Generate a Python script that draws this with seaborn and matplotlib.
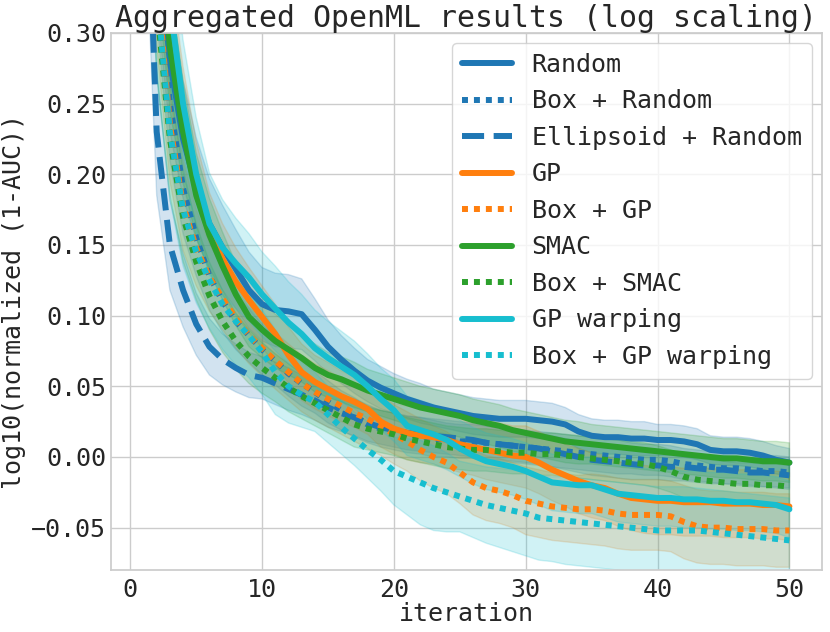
import numpy as np
import pandas as pd
import matplotlib
matplotlib.use("Agg")
import matplotlib.pyplot as plt
import seaborn as sns

iterations = list(range(1, 51))

methods = ["Random", "Box + Random", "Ellipsoid + Random", "GP", "Box + GP",
           "SMAC", "Box + SMAC", "GP warping", "Box + GP warping"]

# mean of log10(normalized 1-AUC), one value per iteration
random_mean = [0.50, 0.38, 0.28, 0.225, 0.19, 0.165, 0.148, 0.133, 0.118, 0.108,
               0.104, 0.103, 0.101, 0.090, 0.078, 0.069, 0.061, 0.054, 0.049, 0.045,
               0.041, 0.038, 0.035, 0.033, 0.031, 0.029, 0.028, 0.027, 0.027, 0.027,
               0.026, 0.025, 0.023, 0.018, 0.015, 0.014, 0.014, 0.013, 0.013, 0.012,
               0.012, 0.011, 0.009, 0.005, 0.004, 0.004, 0.003, 0.001, -0.002, -0.004]
box_random_mean = [0.55, 0.36, 0.25, 0.19, 0.155, 0.128, 0.110, 0.096, 0.086, 0.076,
                   0.068, 0.059, 0.052, 0.046, 0.039, 0.033, 0.028, 0.023, 0.020, 0.018,
                   0.016, 0.015, 0.013, 0.012, 0.011, 0.011, 0.010, 0.009, 0.008, 0.007,
                   0.006, 0.005, 0.004, 0.003, 0.002, 0.001, 0.000, -0.001, -0.002, -0.002,
                   -0.003, -0.005, -0.006, -0.007, -0.008, -0.008, -0.009, -0.010, -0.010, -0.011]
ellipsoid_random_mean = [0.48, 0.23, 0.150, 0.118, 0.094, 0.078, 0.069, 0.063, 0.058, 0.056,
                         0.052, 0.048, 0.044, 0.040, 0.035, 0.031, 0.028, 0.024, 0.021, 0.019,
                         0.017, 0.016, 0.015, 0.014, 0.013, 0.012, 0.010, 0.009, 0.008, 0.007,
                         0.006, 0.004, 0.002, 0.000, -0.002, -0.003, -0.004, -0.005, -0.006, -0.006,
                         -0.007, -0.007, -0.008, -0.009, -0.009, -0.010, -0.011, -0.011, -0.012, -0.013]
gp_mean = [0.63, 0.42, 0.30, 0.24, 0.193, 0.160, 0.140, 0.124, 0.111, 0.099,
           0.087, 0.072, 0.060, 0.053, 0.048, 0.043, 0.039, 0.034, 0.025, 0.020,
           0.017, 0.015, 0.014, 0.012, 0.009, 0.007, 0.005, 0.003, 0.001, 0.000,
           -0.004, -0.009, -0.013, -0.017, -0.020, -0.022, -0.026, -0.029, -0.030, -0.031,
           -0.031, -0.032, -0.032, -0.032, -0.033, -0.033, -0.033, -0.034, -0.034, -0.035]
box_gp_mean = [0.55, 0.34, 0.235, 0.178, 0.148, 0.127, 0.112, 0.098, 0.086, 0.077,
               0.068, 0.060, 0.052, 0.046, 0.041, 0.036, 0.031, 0.027, 0.022, 0.016,
               0.011, 0.005, 0.000, -0.004, -0.011, -0.018, -0.022, -0.024, -0.027, -0.031,
               -0.033, -0.035, -0.036, -0.037, -0.037, -0.038, -0.040, -0.041, -0.041, -0.041,
               -0.042, -0.046, -0.049, -0.050, -0.050, -0.051, -0.051, -0.051, -0.052, -0.052]
smac_mean = [0.62, 0.40, 0.29, 0.23, 0.185, 0.157, 0.135, 0.115, 0.099, 0.090,
             0.082, 0.076, 0.070, 0.063, 0.058, 0.055, 0.051, 0.047, 0.044, 0.041,
             0.038, 0.035, 0.033, 0.031, 0.029, 0.026, 0.024, 0.022, 0.019, 0.017,
             0.015, 0.013, 0.011, 0.010, 0.009, 0.008, 0.007, 0.006, 0.005, 0.004,
             0.003, 0.002, 0.001, 0.000, -0.001, -0.001, -0.002, -0.003, -0.003, -0.004]
box_smac_mean = [0.52, 0.32, 0.225, 0.170, 0.138, 0.114, 0.096, 0.082, 0.071, 0.063,
                 0.056, 0.049, 0.043, 0.038, 0.033, 0.028, 0.023, 0.020, 0.018, 0.016,
                 0.013, 0.011, 0.009, 0.007, 0.006, 0.005, 0.005, 0.004, 0.003, 0.003,
                 0.002, 0.002, 0.001, 0.000, -0.001, -0.002, -0.003, -0.004, -0.005, -0.007,
                 -0.010, -0.014, -0.016, -0.017, -0.018, -0.019, -0.019, -0.020, -0.020, -0.021]
gp_warping_mean = [0.65, 0.45, 0.32, 0.25, 0.20, 0.165, 0.148, 0.137, 0.127, 0.115,
                   0.105, 0.095, 0.087, 0.077, 0.070, 0.064, 0.058, 0.050, 0.041, 0.033,
                   0.022, 0.019, 0.016, 0.012, 0.006, 0.001, -0.003, -0.005, -0.007, -0.010,
                   -0.014, -0.018, -0.019, -0.020, -0.020, -0.023, -0.026, -0.027, -0.028, -0.029,
                   -0.029, -0.030, -0.030, -0.031, -0.031, -0.032, -0.032, -0.033, -0.034, -0.037]
box_gp_warping_mean = [0.55, 0.33, 0.23, 0.175, 0.145, 0.125, 0.108, 0.096, 0.086, 0.074,
                       0.060, 0.050, 0.044, 0.039, 0.030, 0.021, 0.013, 0.005, -0.002, -0.010,
                       -0.014, -0.018, -0.022, -0.025, -0.028, -0.031, -0.034, -0.036, -0.038, -0.040,
                       -0.043, -0.044, -0.045, -0.046, -0.047, -0.048, -0.049, -0.050, -0.051, -0.052,
                       -0.052, -0.052, -0.052, -0.053, -0.054, -0.055, -0.056, -0.057, -0.058, -0.059]

# spread (band half-width) per iteration
random_sd = [0.08, 0.06, 0.05, 0.042, 0.036, 0.032, 0.030, 0.028, 0.027, 0.026,
             0.026, 0.026, 0.025, 0.022, 0.019, 0.017, 0.016, 0.015, 0.015, 0.014,
             0.014, 0.014, 0.013, 0.013, 0.013, 0.013, 0.013, 0.013, 0.013, 0.013,
             0.013, 0.013, 0.012, 0.012, 0.012, 0.012, 0.012, 0.012, 0.012, 0.011,
             0.011, 0.011, 0.011, 0.010, 0.010, 0.010, 0.010, 0.010, 0.010, 0.010]
box_random_sd = [0.07, 0.05, 0.04, 0.032, 0.027, 0.024, 0.022, 0.020, 0.019, 0.018,
                 0.017, 0.016, 0.016, 0.015, 0.015, 0.014, 0.014, 0.013, 0.013, 0.013,
                 0.013, 0.013, 0.013, 0.012, 0.012, 0.012, 0.012, 0.012, 0.012, 0.012,
                 0.012, 0.012, 0.012, 0.012, 0.012, 0.012, 0.012, 0.011, 0.011, 0.011,
                 0.011, 0.011, 0.011, 0.011, 0.011, 0.011, 0.011, 0.011, 0.011, 0.011]
ellipsoid_random_sd = [0.07, 0.045, 0.032, 0.026, 0.022, 0.020, 0.018, 0.017, 0.016, 0.015,
                       0.015, 0.015, 0.014, 0.014, 0.014, 0.013, 0.013, 0.013, 0.012, 0.012,
                       0.012, 0.012, 0.012, 0.012, 0.012, 0.012, 0.012, 0.011, 0.011, 0.011,
                       0.011, 0.011, 0.011, 0.011, 0.011, 0.011, 0.011, 0.011, 0.010, 0.010,
                       0.010, 0.010, 0.010, 0.010, 0.010, 0.010, 0.010, 0.010, 0.010, 0.010]
gp_sd = [0.08, 0.06, 0.045, 0.036, 0.030, 0.027, 0.025, 0.024, 0.023, 0.022,
         0.021, 0.020, 0.020, 0.019, 0.019, 0.018, 0.018, 0.018, 0.018, 0.018,
         0.019, 0.019, 0.019, 0.020, 0.020, 0.020, 0.021, 0.021, 0.021, 0.022,
         0.022, 0.022, 0.022, 0.023, 0.023, 0.023, 0.023, 0.023, 0.024, 0.024,
         0.024, 0.024, 0.024, 0.024, 0.024, 0.024, 0.024, 0.024, 0.024, 0.024]
box_gp_sd = [0.07, 0.05, 0.04, 0.032, 0.027, 0.024, 0.022, 0.021, 0.020, 0.020,
             0.020, 0.020, 0.020, 0.020, 0.020, 0.020, 0.020, 0.021, 0.021, 0.021,
             0.021, 0.022, 0.022, 0.022, 0.022, 0.023, 0.023, 0.023, 0.023, 0.024,
             0.024, 0.024, 0.024, 0.024, 0.025, 0.025, 0.025, 0.025, 0.025, 0.025,
             0.025, 0.026, 0.026, 0.026, 0.026, 0.026, 0.026, 0.026, 0.026, 0.026]
smac_sd = [0.08, 0.06, 0.045, 0.036, 0.030, 0.026, 0.024, 0.022, 0.021, 0.020,
           0.019, 0.018, 0.017, 0.017, 0.016, 0.016, 0.016, 0.015, 0.015, 0.015,
           0.015, 0.015, 0.015, 0.015, 0.015, 0.015, 0.015, 0.015, 0.015, 0.015,
           0.015, 0.015, 0.015, 0.015, 0.014, 0.014, 0.014, 0.014, 0.014, 0.014,
           0.014, 0.014, 0.014, 0.014, 0.014, 0.014, 0.014, 0.014, 0.014, 0.014]
box_smac_sd = [0.07, 0.05, 0.04, 0.032, 0.027, 0.024, 0.022, 0.020, 0.019, 0.018,
               0.017, 0.017, 0.016, 0.016, 0.016, 0.016, 0.016, 0.015, 0.015, 0.015,
               0.015, 0.015, 0.015, 0.015, 0.015, 0.015, 0.015, 0.015, 0.015, 0.015,
               0.015, 0.015, 0.015, 0.015, 0.015, 0.015, 0.015, 0.015, 0.015, 0.015,
               0.015, 0.015, 0.015, 0.015, 0.015, 0.015, 0.015, 0.015, 0.015, 0.015]
gp_warping_sd = [0.09, 0.07, 0.055, 0.045, 0.040, 0.036, 0.034, 0.032, 0.031, 0.030,
                 0.030, 0.029, 0.028, 0.027, 0.026, 0.025, 0.024, 0.023, 0.022, 0.022,
                 0.021, 0.021, 0.021, 0.021, 0.020, 0.020, 0.020, 0.020, 0.020, 0.020,
                 0.020, 0.020, 0.020, 0.020, 0.020, 0.020, 0.020, 0.020, 0.020, 0.020,
                 0.020, 0.020, 0.020, 0.020, 0.020, 0.020, 0.020, 0.020, 0.020, 0.020]
box_gp_warping_sd = [0.08, 0.06, 0.048, 0.040, 0.036, 0.034, 0.032, 0.031, 0.030, 0.030,
                     0.030, 0.026, 0.023, 0.021, 0.020, 0.019, 0.019, 0.020, 0.022, 0.024,
                     0.027, 0.030, 0.030, 0.028, 0.025, 0.026, 0.027, 0.028, 0.029, 0.030,
                     0.030, 0.030, 0.031, 0.031, 0.031, 0.031, 0.031, 0.031, 0.031, 0.031,
                     0.031, 0.031, 0.030, 0.030, 0.030, 0.030, 0.030, 0.030, 0.030, 0.030]

means = [random_mean, box_random_mean, ellipsoid_random_mean, gp_mean, box_gp_mean,
         smac_mean, box_smac_mean, gp_warping_mean, box_gp_warping_mean]
sds = [random_sd, box_random_sd, ellipsoid_random_sd, gp_sd, box_gp_sd,
       smac_sd, box_smac_sd, gp_warping_sd, box_gp_warping_sd]

colors = ["#1f77b4", "#1f77b4", "#1f77b4", "#ff7f0e", "#ff7f0e",
          "#2ca02c", "#2ca02c", "#17becf", "#17becf"]
styles = ["-", (0, (1, 1)), "--", "-", (0, (1, 1)),
          "-", (0, (1, 1)), "-", (0, (1, 1))]

sns.set_theme(style="whitegrid")
plt.rcParams["font.family"] = ["DejaVu Sans Mono"]
plt.rcParams["font.size"] = 18
plt.rcParams["axes.labelsize"] = 18
plt.rcParams["axes.titlesize"] = 21.5
plt.rcParams["xtick.labelsize"] = 18
plt.rcParams["ytick.labelsize"] = 18
plt.rcParams["legend.fontsize"] = 18
plt.rcParams["xtick.major.size"] = 0
plt.rcParams["ytick.major.size"] = 0
plt.rcParams["xtick.major.pad"] = 6
plt.rcParams["ytick.major.pad"] = 3.5

fig, ax = plt.subplots(figsize=(8.3, 6.32), dpi=100)
fig.subplots_adjust(left=0.134, right=0.990, top=0.948, bottom=0.098)

for name, m, s, c, ls in zip(methods, means, sds, colors, styles):
    df = pd.DataFrame({"iteration": iterations, "value": m})
    lo = np.array(m) - np.array(s)
    hi = np.array(m) + np.array(s)
    ax.fill_between(iterations, lo, hi, color=c, alpha=0.2)
    sns.lineplot(data=df, x="iteration", y="value", color=c, linestyle=ls,
                 linewidth=4.3, label=name, ax=ax)

ax.set_ylim(-0.08, 0.30)
ax.set_xticks([0, 10, 20, 30, 40, 50])
ax.set_xlabel("iteration", labelpad=0)
ax.set_ylabel("log10(normalized (1-AUC))", labelpad=4)
ax.set_title("Aggregated OpenML results (log scaling)", pad=4)
ax.legend(loc="upper right", frameon=True, borderaxespad=0.4)

fig.savefig("out.png", dpi=100)
